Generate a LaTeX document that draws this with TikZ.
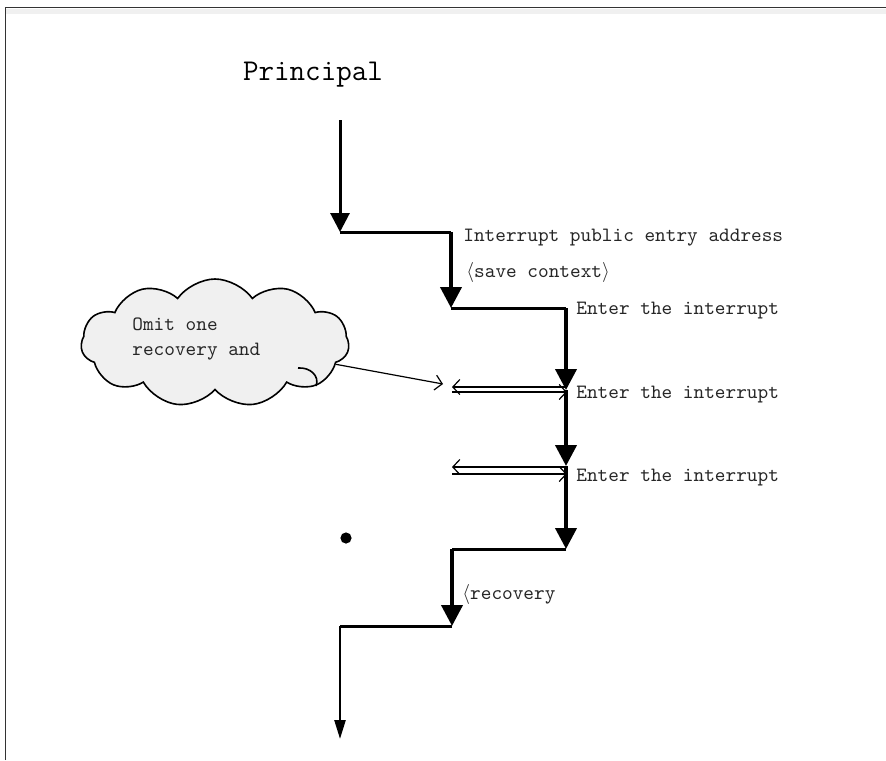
\documentclass[tikz,border=0pt]{standalone}
\usetikzlibrary{arrows.meta,shapes.symbols}
\begin{document}
\begin{tikzpicture}[x=0.5pt,y=-0.5pt,
  flow/.style={line width=1.5pt,black},
  down/.style={line width=2pt,black,-{Triangle[width=10.5pt,length=10.5pt]}},
  link/.style={line width=0.6pt,black},
  chev/.style={-{Straight Barb[length=3.5pt,width=7.5pt,line width=0.6pt]}},
  lbl/.style={inner sep=0pt,text=black!85,font=\ttfamily\fontsize{10.15}{12.5}\selectfont},
  puff/.style={draw=black,line width=0.8pt,fill=black!6}]
\useasboundingbox (0,0) rectangle (886,760);

% frame
\fill[black!6] (6,9) rectangle (886,14);
\draw[black!80,line width=0.75pt] (5.5,760) -- (5.5,7.5) -- (886,7.5);

% title
\node[inner sep=0pt,font=\ttfamily\fontsize{15.1}{18}\selectfont] (title) at (313,75) {Principal};

% stair points
\coordinate (p0) at (340,120);
\coordinate (p1) at (340,232);
\coordinate (q1) at (451,232);
\coordinate (q2) at (451,308);
\coordinate (r1) at (566,308);
\coordinate (r2) at (566,390);
\coordinate (r3) at (566,466);
\coordinate (r4) at (566,549);
\coordinate (s1) at (452,549);
\coordinate (s2) at (452,626);
\coordinate (t1) at (340,626);
\coordinate (t2) at (340,739);

\draw[down,line width=1.5pt,-{Triangle[width=9.5pt,length=9.5pt]}] (p0) -- (p1);
\draw[flow] (p1) -- (q1);
\draw[down] (q1) -- (q2);
\draw[flow] (q2) -- (r1);
\draw[down] (r1) -- (r2);
\draw[down] (r2) -- (r3);
\draw[down] (r3) -- (r4);
\draw[flow] (r4) -- (s1);
\draw[down] (s1) -- (s2);
\draw[flow] (s2) -- (t1);
\draw[line width=1.2pt,-{Triangle[width=5.5pt,length=9.5pt]}] (t1) -- (t2);

% paired return arrows
\coordinate (a1l) at (452,387);
\coordinate (a1r) at (567,387);
\coordinate (b1l) at (452,392);
\coordinate (b1r) at (567,392);
\coordinate (a2l) at (452,467);
\coordinate (a2r) at (567,467);
\coordinate (b2l) at (452,474);
\coordinate (b2r) at (567,474);
\draw[link,chev] (a1r) -- (a1l);
\draw[link,chev] (b1l) -- (b1r);
\draw[link,chev] (a2r) -- (a2l);
\draw[link,chev] (b2l) -- (b2r);

% labels
\node[lbl,anchor=west] (l1) at (463,238) {Interrupt public entry address};
\node[lbl,anchor=west] (l2) at (466,272) {$\langle$save context$\rangle$};
\node[lbl,anchor=west] (l3) at (576,311) {Enter the interrupt};
\node[lbl,anchor=west] (l4) at (576,395) {Enter the interrupt};
\node[lbl,anchor=west] (l5) at (576,478) {Enter the interrupt};
\node[lbl,anchor=west] (l6) at (462,594) {$\langle$recovery};

% cloud callout
\node[puff,cloud,cloud puffs=11,cloud puff arc=110,cloud ignores aspect,
      minimum width=134pt,minimum height=64pt,inner sep=0pt] (cloud) at (215,343) {};
\draw[line width=0.8pt] (298,368) .. controls (310,367) and (320,376) .. (316,386);
\node[lbl,anchor=north west,align=left] (ctext) at (132,317) {Omit one\\recovery and};
\coordinate (ctip) at (443,384);
\draw[link,chev] (cloud.-10) -- (ctip);

% dot
\fill (346,538) circle (2.8pt);
\end{tikzpicture}
\end{document}
